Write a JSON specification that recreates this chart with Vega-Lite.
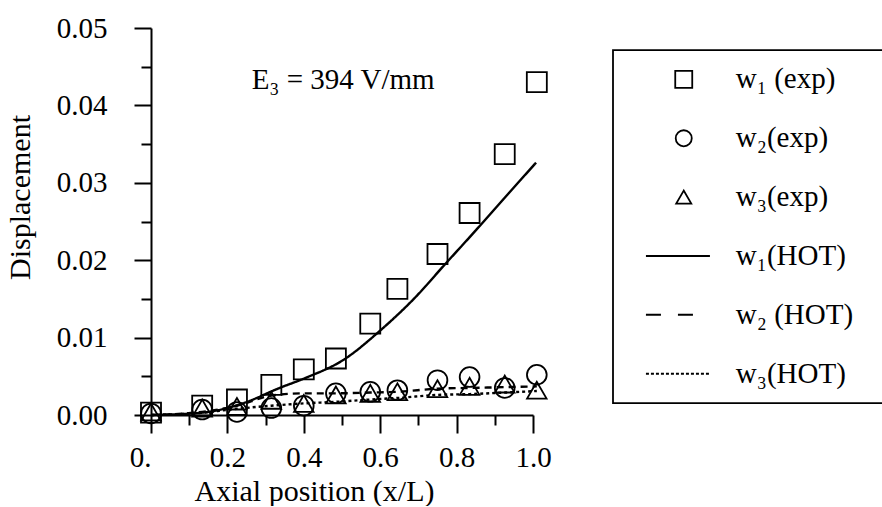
{
  "$schema": "https://vega.github.io/schema/vega-lite/v6.json",
  "background": "white",
  "padding": {"left": 5, "top": 14, "right": 0, "bottom": 0},
  "spacing": 60,
  "center": true,
  "config": {
    "font": "Liberation Serif",
    "view": {"stroke": null},
    "axis": {
      "labelFont": "Liberation Serif", "labelFontSize": 29, "labelColor": "black",
      "titleFont": "Liberation Serif", "titleFontSize": 30, "titleFontWeight": "normal", "titleColor": "black",
      "domainColor": "black", "tickColor": "black", "domainWidth": 2, "tickWidth": 2,
      "grid": false, "labelFlush": false, "labelOverlap": false
    }
  },
  "resolve": {"scale": {"shape": "independent", "size": "independent", "strokeDash": "independent"}},
  "datasets": {
    "exp": [
      {"x": 0.000, "y": 0.0003, "series": "w1"},
      {"x": 0.134, "y": 0.0012, "series": "w1"},
      {"x": 0.225, "y": 0.0020, "series": "w1"},
      {"x": 0.315, "y": 0.0039, "series": "w1"},
      {"x": 0.400, "y": 0.0059, "series": "w1"},
      {"x": 0.484, "y": 0.0073, "series": "w1"},
      {"x": 0.574, "y": 0.0118, "series": "w1"},
      {"x": 0.645, "y": 0.0163, "series": "w1"},
      {"x": 0.750, "y": 0.0208, "series": "w1"},
      {"x": 0.834, "y": 0.0261, "series": "w1"},
      {"x": 0.926, "y": 0.0337, "series": "w1"},
      {"x": 1.010, "y": 0.0430, "series": "w1"},
      {"x": 0.000, "y": 0.0002, "series": "w2"},
      {"x": 0.134, "y": 0.0007, "series": "w2"},
      {"x": 0.225, "y": 0.0004, "series": "w2"},
      {"x": 0.315, "y": 0.0009, "series": "w2"},
      {"x": 0.400, "y": 0.0012, "series": "w2"},
      {"x": 0.484, "y": 0.0028, "series": "w2"},
      {"x": 0.574, "y": 0.0030, "series": "w2"},
      {"x": 0.645, "y": 0.0032, "series": "w2"},
      {"x": 0.750, "y": 0.0045, "series": "w2"},
      {"x": 0.834, "y": 0.0049, "series": "w2"},
      {"x": 0.926, "y": 0.0035, "series": "w2"},
      {"x": 1.010, "y": 0.0052, "series": "w2"},
      {"x": 0.000, "y": 0.0004, "series": "w3"},
      {"x": 0.134, "y": 0.0009, "series": "w3"},
      {"x": 0.225, "y": 0.0011, "series": "w3"},
      {"x": 0.315, "y": 0.0019, "series": "w3"},
      {"x": 0.400, "y": 0.0015, "series": "w3"},
      {"x": 0.484, "y": 0.0026, "series": "w3"},
      {"x": 0.574, "y": 0.0028, "series": "w3"},
      {"x": 0.645, "y": 0.0030, "series": "w3"},
      {"x": 0.750, "y": 0.0034, "series": "w3"},
      {"x": 0.834, "y": 0.0037, "series": "w3"},
      {"x": 0.926, "y": 0.0040, "series": "w3"},
      {"x": 1.010, "y": 0.0032, "series": "w3"}
    ],
    "hot": [
      {"x": 0.000, "y": 0.0000, "series": "w1"},
      {"x": 0.134, "y": 0.0003, "series": "w1"},
      {"x": 0.240, "y": 0.0015, "series": "w1"},
      {"x": 0.337, "y": 0.0035, "series": "w1"},
      {"x": 0.405, "y": 0.0048, "series": "w1"},
      {"x": 0.503, "y": 0.0071, "series": "w1"},
      {"x": 0.602, "y": 0.0110, "series": "w1"},
      {"x": 0.686, "y": 0.0149, "series": "w1"},
      {"x": 0.772, "y": 0.0196, "series": "w1"},
      {"x": 0.851, "y": 0.0239, "series": "w1"},
      {"x": 0.921, "y": 0.0278, "series": "w1"},
      {"x": 1.008, "y": 0.0326, "series": "w1"},
      {"x": 0.000, "y": 0.0000, "series": "w2"},
      {"x": 0.134, "y": 0.0004, "series": "w2"},
      {"x": 0.225, "y": 0.0012, "series": "w2"},
      {"x": 0.315, "y": 0.0025, "series": "w2"},
      {"x": 0.400, "y": 0.0028, "series": "w2"},
      {"x": 0.484, "y": 0.0028, "series": "w2"},
      {"x": 0.574, "y": 0.0029, "series": "w2"},
      {"x": 0.645, "y": 0.0030, "series": "w2"},
      {"x": 0.750, "y": 0.0034, "series": "w2"},
      {"x": 0.834, "y": 0.0035, "series": "w2"},
      {"x": 0.926, "y": 0.0036, "series": "w2"},
      {"x": 1.010, "y": 0.0037, "series": "w2"},
      {"x": 0.000, "y": 0.0000, "series": "w3"},
      {"x": 0.134, "y": 0.0003, "series": "w3"},
      {"x": 0.225, "y": 0.0008, "series": "w3"},
      {"x": 0.315, "y": 0.0012, "series": "w3"},
      {"x": 0.400, "y": 0.0015, "series": "w3"},
      {"x": 0.484, "y": 0.0017, "series": "w3"},
      {"x": 0.574, "y": 0.0020, "series": "w3"},
      {"x": 0.645, "y": 0.0022, "series": "w3"},
      {"x": 0.750, "y": 0.0026, "series": "w3"},
      {"x": 0.834, "y": 0.0027, "series": "w3"},
      {"x": 0.926, "y": 0.0029, "series": "w3"},
      {"x": 1.010, "y": 0.0031, "series": "w3"}
    ],
    "note": [
      {"x": 0.503, "y": 0.0433, "text": "E₃ = 394 V/mm"}
    ],
    "legend": [
      {"label": "w₁ (exp)", "series": "w1", "kind": "exp"},
      {"label": "w₂(exp)", "series": "w2", "kind": "exp"},
      {"label": "w₃(exp)", "series": "w3", "kind": "exp"},
      {"label": "w₁(HOT)", "series": "w1", "kind": "hot"},
      {"label": "w₂ (HOT)", "series": "w2", "kind": "hot"},
      {"label": "w₃(HOT)", "series": "w3", "kind": "hot"}
    ]
  },
  "hconcat": [
    {
      "width": 382,
      "height": 387,
      "resolve": {"axis": {"x": "independent", "y": "independent"}},
      "layer": [
        {
          "data": {"name": "hot"},
          "mark": {"type": "line", "color": "black", "strokeWidth": 2.4, "interpolate": "monotone"},
          "encoding": {
            "x": {"field": "x", "type": "quantitative", "scale": {"domain": [0, 1], "nice": false},
                  "axis": {"orient": "bottom", "values": [0.1, 0.3, 0.5, 0.7, 0.9], "tickSize": 10, "labels": false, "domain": false, "title": null}},
            "y": {"field": "y", "type": "quantitative", "scale": {"domain": [0, 0.05], "nice": false},
                  "axis": {"orient": "left", "values": [0.005, 0.015, 0.025, 0.035, 0.045], "tickSize": 10, "labels": false, "domain": false, "title": null}},
            "strokeDash": {"field": "series", "type": "nominal",
                           "scale": {"domain": ["w1", "w2", "w3"], "range": [[1, 0], [7, 5], [3, 3]]}, "legend": null}
          }
        },
        {
          "data": {"name": "exp"},
          "mark": {"type": "point", "filled": false, "color": "black", "strokeWidth": 1.8, "opacity": 1},
          "encoding": {
            "x": {"field": "x", "type": "quantitative",
                  "axis": {"orient": "bottom", "values": [0, 0.2, 0.4, 0.6, 0.8, 1], "tickSize": 18,
                           "labelExpr": "datum.value == 0 ? '0.' : format(datum.value, '.1f')",
                           "labelAlign": {"condition": {"test": "datum.value == 0", "value": "right"}, "value": "center"},
                           "labelPadding": 10, "title": "Axial position (x/L)", "titlePadding": 4, "titleX": 163}},
            "y": {"field": "y", "type": "quantitative",
                  "axis": {"orient": "left", "values": [0, 0.01, 0.02, 0.03, 0.04, 0.05], "format": ".2f", "tickSize": 17,
                           "labelPadding": 27, "title": "Displacement", "titlePadding": 21, "titleY": 169}},
            "shape": {"field": "series", "type": "nominal",
                      "scale": {"domain": ["w1", "w2", "w3"], "range": ["square", "circle", "triangle-up"]}, "legend": null},
            "size": {"field": "series", "type": "nominal",
                     "scale": {"domain": ["w1", "w2", "w3"], "range": [400, 380, 484]}, "legend": null}
          }
        },
        {
          "data": {"name": "note"},
          "mark": {"type": "text", "font": "Liberation Serif", "fontSize": 29, "align": "center", "baseline": "middle", "color": "black"},
          "encoding": {
            "x": {"field": "x", "type": "quantitative", "axis": null},
            "y": {"field": "y", "type": "quantitative", "axis": null},
            "text": {"field": "text"}
          }
        }
      ]
    },
    {
      "width": 270,
      "height": 353,
      "view": {"stroke": "black", "strokeWidth": 1.8},
      "data": {"name": "legend"},
      "encoding": {
        "y": {"field": "label", "type": "nominal", "sort": null,
              "scale": {"type": "point", "padding": 0.5,
                        "domain": ["w₁ (exp)", "w₂(exp)", "w₃(exp)", "w₁(HOT)", "w₂ (HOT)", "w₃(HOT)"]},
              "axis": null}
      },
      "layer": [
        {
          "transform": [{"filter": "datum.kind == 'exp'"}],
          "mark": {"type": "point", "filled": false, "color": "black", "strokeWidth": 1.8, "opacity": 1},
          "encoding": {
            "x": {"datum": 0.262, "type": "quantitative", "scale": {"domain": [0, 1]},
                  "axis": {"orient": "bottom", "domain": false, "ticks": false, "labels": false, "title": " ", "titleFontSize": 2, "titlePadding": 78}},
            "shape": {"field": "series", "type": "nominal",
                      "scale": {"domain": ["w1", "w2", "w3"], "range": ["square", "circle", "triangle-up"]}, "legend": null},
            "size": {"field": "series", "type": "nominal",
                     "scale": {"domain": ["w1", "w2", "w3"], "range": [289, 227, 400]}, "legend": null}
          }
        },
        {
          "transform": [{"filter": "datum.kind == 'hot'"}],
          "mark": {"type": "rule", "color": "black", "strokeWidth": 2},
          "encoding": {
            "x": {"datum": 0.122, "type": "quantitative"},
            "x2": {"datum": 0.359},
            "strokeDash": {"field": "series", "type": "nominal",
                           "scale": {"domain": ["w1", "w2", "w3"], "range": [[1, 0], [15, 17], [3, 2]]}, "legend": null}
          }
        },
        {
          "mark": {"type": "text", "font": "Liberation Serif", "fontSize": 29, "align": "left", "baseline": "middle", "color": "black"},
          "encoding": {
            "x": {"datum": 0.455, "type": "quantitative"},
            "text": {"field": "label"}
          }
        }
      ]
    }
  ]
}
